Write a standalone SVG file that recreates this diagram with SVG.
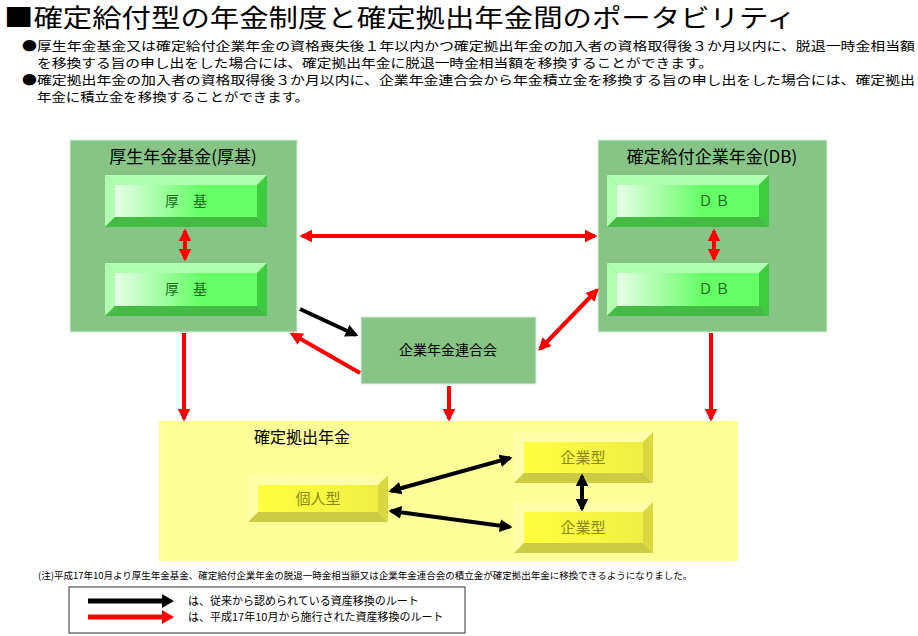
<svg xmlns="http://www.w3.org/2000/svg" width="918" height="636" viewBox="0 0 918 636">
<style>
text{font-family:"Noto Sans CJK JP","Liberation Sans",sans-serif;}
.r{stroke:#f00;stroke-width:4;fill:none}
.k{stroke:#000;stroke-width:4;fill:none}
.gt{font-size:14px;fill:#1a6e1a;text-anchor:middle}
.yt{font-size:15px;fill:#8a8a10;text-anchor:middle}
</style>
<defs>
<marker id="ar" viewBox="0 0 10 10" refX="8" refY="5" markerWidth="3.2" markerHeight="3.2" orient="auto-start-reverse"><path d="M0,0L10,5L0,10z" fill="#f00"/></marker>
<marker id="ak" viewBox="0 0 10 10" refX="8" refY="5" markerWidth="3.2" markerHeight="3.2" orient="auto-start-reverse"><path d="M0,0L10,5L0,10z" fill="#000"/></marker>
<linearGradient id="gf" x1="0" y1="0" x2="1" y2="0"><stop offset="0" stop-color="#e6ffe6"/><stop offset="0.6" stop-color="#66ff66"/><stop offset="1" stop-color="#66ff66"/></linearGradient>
<linearGradient id="yf" x1="0" y1="0" x2="1" y2="0"><stop offset="0" stop-color="#ffff40"/><stop offset="1" stop-color="#eeee44"/></linearGradient>
</defs>
<rect width="918" height="636" fill="#fff"/>
<text x="4" y="27" font-size="25" fill="#000" textLength="792" lengthAdjust="spacingAndGlyphs">■確定給付型の年金制度と確定拠出年金間のポータビリティ</text>
<g font-size="12.5" fill="#000" lengthAdjust="spacingAndGlyphs">
<text x="22" y="51" textLength="893" lengthAdjust="spacingAndGlyphs">●厚生年金基金又は確定給付企業年金の資格喪失後１年以内かつ確定拠出年金の加入者の資格取得後３か月以内に、脱退一時金相当額</text>
<text x="37" y="68" textLength="676" lengthAdjust="spacingAndGlyphs">を移換する旨の申し出をした場合には、確定拠出年金に脱退一時金相当額を移換することができます。</text>
<text x="22" y="85" textLength="893" lengthAdjust="spacingAndGlyphs">●確定拠出年金の加入者の資格取得後３か月以内に、企業年金連合会から年金積立金を移換する旨の申し出をした場合には、確定拠出</text>
<text x="37" y="102" textLength="272" lengthAdjust="spacingAndGlyphs">年金に積立金を移換することができます。</text>
</g>
<g id="kousei"><rect x="70" y="140" width="227" height="192" fill="#86c586" stroke="#d8efd8"/>
<text x="183" y="163" font-size="17" text-anchor="middle">厚生年金基金(厚基)</text></g>
<g id="kk1"><polygon points="105,175 267,175 257,185 115,185" fill="#b0ffb0"/><polygon points="105,175 115,185 115,217 105,227" fill="#b0ffb0"/><polygon points="267,175 267,227 257,217 257,185" fill="#3dcc3d"/><polygon points="105,227 115,217 257,217 267,227" fill="#44bb44"/><rect x="115" y="185" width="142" height="32" fill="url(#gf)"/><text x="186" y="206" class="gt">厚　基</text></g>
<g id="kk2"><polygon points="105,263 267,263 257,273 115,273" fill="#b0ffb0"/><polygon points="105,263 115,273 115,306 105,316" fill="#b0ffb0"/><polygon points="267,263 267,316 257,306 257,273" fill="#3dcc3d"/><polygon points="105,316 115,306 257,306 267,316" fill="#44bb44"/><rect x="115" y="273" width="142" height="33" fill="url(#gf)"/><text x="186" y="294" class="gt">厚　基</text></g>
<g id="db"><rect x="598" y="140" width="229" height="192" fill="#86c586" stroke="#d8efd8"/>
<text x="712" y="163" font-size="17" text-anchor="middle">確定給付企業年金(DB)</text></g>
<g id="db1"><polygon points="607,175 769,175 759,185 617,185" fill="#b0ffb0"/><polygon points="607,175 617,185 617,217 607,227" fill="#b0ffb0"/><polygon points="769,175 769,227 759,217 759,185" fill="#3dcc3d"/><polygon points="607,227 617,217 759,217 769,227" fill="#44bb44"/><rect x="617" y="185" width="142" height="32" fill="url(#gf)"/><text x="714" y="206" class="gt">Ｄ Ｂ</text></g>
<g id="db2"><polygon points="607,263 769,263 759,273 617,273" fill="#b0ffb0"/><polygon points="607,263 617,273 617,306 607,316" fill="#b0ffb0"/><polygon points="769,263 769,316 759,306 759,273" fill="#3dcc3d"/><polygon points="607,316 617,306 759,306 769,316" fill="#44bb44"/><rect x="617" y="273" width="142" height="33" fill="url(#gf)"/><text x="714" y="294" class="gt">Ｄ Ｂ</text></g>
<g id="rengo"><rect x="361" y="317" width="175" height="67" fill="#86c586" stroke="#d8efd8"/><text x="448" y="355" font-size="14" text-anchor="middle">企業年金連合会</text></g>
<g id="dc"><rect x="159" y="421" width="579" height="140" fill="#ffff99"/><text x="302" y="443" font-size="16" text-anchor="middle">確定拠出年金</text></g>
<g id="kojin"><polygon points="248,475 388,475 378,485 258,485" fill="#ffffaa"/><polygon points="248,475 258,485 258,512 248,522" fill="#ffffaa"/><polygon points="388,475 388,522 378,512 378,485" fill="#d8d840"/><polygon points="248,522 258,512 378,512 388,522" fill="#cccc44"/><rect x="258" y="485" width="120" height="27" fill="url(#yf)"/><text x="318" y="504" class="yt">個人型</text></g>
<g id="kigyo1"><polygon points="514,432 653,432 643,442 524,442" fill="#ffffaa"/><polygon points="514,432 524,442 524,473 514,483" fill="#ffffaa"/><polygon points="653,432 653,483 643,473 643,442" fill="#d8d840"/><polygon points="514,483 524,473 643,473 653,483" fill="#cccc44"/><rect x="524" y="442" width="119" height="31" fill="url(#yf)"/><text x="583" y="463" class="yt">企業型</text></g>
<g id="kigyo2"><polygon points="514,502 653,502 643,512 524,512" fill="#ffffaa"/><polygon points="514,502 524,512 524,543 514,553" fill="#ffffaa"/><polygon points="653,502 653,553 643,543 643,512" fill="#d8d840"/><polygon points="514,553 524,543 643,543 653,553" fill="#cccc44"/><rect x="524" y="512" width="119" height="31" fill="url(#yf)"/><text x="583" y="533" class="yt">企業型</text></g>
<g id="connectors">
<line class="r" x1="185" y1="231" x2="185" y2="259" marker-start="url(#ar)" marker-end="url(#ar)"/>
<line class="r" x1="714" y1="231" x2="714" y2="259" marker-start="url(#ar)" marker-end="url(#ar)"/>
<line class="r" x1="302" y1="236" x2="595" y2="236" marker-start="url(#ar)" marker-end="url(#ar)"/>
<line class="k" x1="300" y1="309" x2="356" y2="335" marker-end="url(#ak)"/>
<line class="r" x1="360" y1="373" x2="292" y2="334" marker-end="url(#ar)"/>
<line class="r" x1="540" y1="349" x2="597" y2="290" marker-start="url(#ar)" marker-end="url(#ar)"/>
<line class="r" x1="184" y1="333" x2="184" y2="419" marker-end="url(#ar)"/>
<line class="r" x1="449" y1="386" x2="449" y2="419" marker-end="url(#ar)"/>
<line class="r" x1="711" y1="333" x2="711" y2="419" marker-end="url(#ar)"/>
<line class="k" x1="391" y1="491" x2="510" y2="458" marker-start="url(#ak)" marker-end="url(#ak)"/>
<line class="k" x1="391" y1="511" x2="510" y2="527" marker-start="url(#ak)" marker-end="url(#ak)"/>
<line class="k" x1="582" y1="476" x2="582" y2="509" marker-start="url(#ak)" marker-end="url(#ak)"/>
</g>
<text x="38" y="579" font-size="9.5">(注)平成17年10月より厚生年金基金、確定給付企業年金の脱退一時金相当額又は企業年金連合会の積立金が確定拠出年金に移換できるようになりました。</text>
<g id="legend"><rect x="69" y="587" width="396" height="46" fill="#fff" stroke="#333"/>
<line x1="88" y1="601" x2="162" y2="601" stroke="#000" stroke-width="5"/><polygon points="162,594 174,601 162,608" fill="#000"/>
<line x1="88" y1="617" x2="162" y2="617" stroke="#f00" stroke-width="5"/><polygon points="162,610 174,617 162,624" fill="#f00"/>
<text x="188" y="605" font-size="11">は、従来から認められている資産移換のルート</text>
<text x="188" y="621" font-size="11">は、平成17年10月から施行された資産移換のルート</text></g>
</svg>
